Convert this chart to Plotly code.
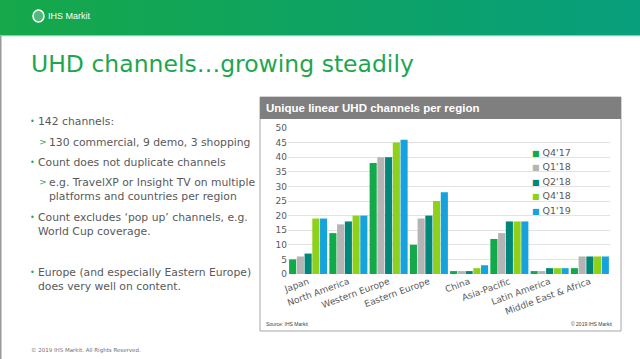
import plotly.graph_objects as go

W, H = 640, 359

regions = ["Japan", "North America", "Western Europe", "Eastern Europe", "China",
           "Asia-Pacific", "Latin America", "Middle East & Africa"]
q4_17 = [5, 14, 38, 10, 1, 12, 1, 2]
q1_18 = [6, 17, 40, 19, 1, 14, 1, 6]
q2_18 = [7, 18, 40, 20, 1, 18, 2, 6]
q4_18 = [19, 20, 45, 25, 2, 18, 2, 6]
q1_19 = [19, 20, 46, 28, 3, 18, 2, 6]
series_names = ["Q4'17", "Q1'18", "Q2'18", "Q4'18", "Q1'19"]
series_vals = [q4_17, q1_18, q2_18, q4_18, q1_19]
series_colors = ["#12a94a", "#b4b4b4", "#00877a", "#8fd11a", "#16a3dc"]
y_ticks = [0, 5, 10, 15, 20, 25, 30, 35, 40, 45, 50]

bullets = [
    ("•", "142 channels:", 0, 122),
    (">", "130 commercial, 9 demo, 3 shopping", 1, 142),
    ("•", "Count does not duplicate channels", 0, 162),
    (">", "e.g. TravelXP or Insight TV on multiple", 1, 182),
    ("", "platforms and countries per region", 1, 196),
    ("•", "Count excludes ‘pop up’ channels, e.g.", 0, 217),
    ("", "World Cup coverage.", 0, 231),
    ("•", "Europe (and especially Eastern Europe)", 0, 272),
    ("", "does very well on content.", 0, 286),
]

def px(x):
    return x / W

def py(y):
    return 1 - y / H

fig = go.Figure()
for name, vals, col in zip(series_names, series_vals, series_colors):
    fig.add_trace(go.Bar(x=regions, y=vals, name=name, marker_color=col,
                         marker_line_width=0, showlegend=False))

shapes = []
# header gradient
c0 = (0x16, 0xa8, 0x4a)
c1 = (0x08, 0x9f, 0x7c)
n = 40
for i in range(n):
    t = i / (n - 1)
    c = tuple(int(c0[k] + (c1[k] - c0[k]) * t) for k in range(3))
    shapes.append(dict(type="rect", xref="paper", yref="paper",
                       x0=px(i * W / n), x1=px((i + 1) * W / n + 0.5),
                       y0=py(35), y1=py(0), line_width=0,
                       fillcolor="rgb(%d,%d,%d)" % c, layer="below"))
shapes.append(dict(type="rect", xref="paper", yref="paper", x0=0, x1=1,
                   y0=py(36.2), y1=py(35), line_width=0, fillcolor="#7fcdbd", layer="below"))
# left border
shapes.append(dict(type="rect", xref="paper", yref="paper", x0=0, x1=px(1.5),
                   y0=0, y1=py(36), line_width=0, fillcolor="#9a9a9a", layer="below"))
# logo
shapes.append(dict(type="circle", xref="paper", yref="paper", x0=px(33), x1=px(44),
                   y0=py(22), y1=py(10), line=dict(color="white", width=1.5),
                   fillcolor="rgba(255,255,255,0.25)", layer="above"))
# chart box
bx0, bx1, by0, by1 = 260, 621, 97, 331
shapes.append(dict(type="rect", xref="paper", yref="paper", x0=px(bx0), x1=px(bx1),
                   y0=py(by1), y1=py(by0), line=dict(color="#a6a6a6", width=1),
                   fillcolor="white", layer="below"))
shapes.append(dict(type="rect", xref="paper", yref="paper", x0=px(bx0), x1=px(bx1),
                   y0=py(119), y1=py(by0), line_width=0, fillcolor="#7f7f7f", layer="below"))

ann = []
ann.append(dict(text="IHS Markit", x=px(46), y=py(16.5), xref="paper", yref="paper",
                xanchor="left", yanchor="middle", showarrow=False,
                font=dict(family="Arial", size=9, color="white")))
ann.append(dict(text="UHD channels…growing steadily", x=px(29), y=py(64),
                xref="paper", yref="paper", xanchor="left", yanchor="middle",
                showarrow=False, font=dict(family="DejaVu Sans", size=23.5, color="#1ea64f")))
for sym, txt, lvl, y in bullets:
    xs = 28 if lvl == 0 else 37
    xt = 36 if lvl == 0 else 47
    if sym:
        ann.append(dict(text=sym, x=px(xs), y=py(y), xref="paper", yref="paper",
                        xanchor="left", yanchor="middle", showarrow=False,
                        font=dict(family="DejaVu Sans", size=8 if sym == "•" else 9,
                                  color="#2aa85a")))
    ann.append(dict(text=txt, x=px(xt), y=py(y), xref="paper", yref="paper",
                    xanchor="left", yanchor="middle", showarrow=False,
                    font=dict(family="DejaVu Sans", size=10.8, color="#595959")))
ann.append(dict(text="<b>Unique linear UHD channels per region</b>", x=px(264), y=py(108),
                xref="paper", yref="paper", xanchor="left", yanchor="middle",
                showarrow=False, font=dict(family="Arial", size=11.5, color="white")))
ann.append(dict(text="Source: IHS Markit", x=px(264), y=py(324), xref="paper", yref="paper",
                xanchor="left", yanchor="middle", showarrow=False,
                font=dict(family="Arial", size=5, color="#404040")))
ann.append(dict(text="© 2019 IHS Markit", x=px(615), y=py(324), xref="paper", yref="paper",
                xanchor="right", yanchor="middle", showarrow=False,
                font=dict(family="Arial", size=5, color="#404040")))
ann.append(dict(text="© 2019 IHS Markit. All Rights Reserved.", x=px(29), y=py(350),
                xref="paper", yref="paper", xanchor="left", yanchor="middle",
                showarrow=False, font=dict(family="DejaVu Sans", size=5.5, color="#707070")))
# legend as text entries
for i, (name, col) in enumerate(zip(series_names, series_colors)):
    ann.append(dict(text="<span style='color:%s;font-size:8px'>■</span> %s" % (col, name),
                    x=px(530), y=py(152 + 14.5 * i), xref="paper", yref="paper",
                    xanchor="left", yanchor="middle", showarrow=False,
                    font=dict(family="DejaVu Sans", size=9.5, color="#595959")))

fig.update_layout(
    width=W, height=H, margin=dict(l=0, r=0, t=0, b=0, autoexpand=False),
    paper_bgcolor="white", plot_bgcolor="rgba(0,0,0,0)",
    barmode="group", bargap=0.04, bargroupgap=0.08,
    shapes=shapes, annotations=ann, showlegend=False,
    xaxis=dict(domain=[px(288), px(610)], tickangle=-20, showline=False,
               ticks="", tickfont=dict(family="DejaVu Sans", size=9, color="#595959")),
    yaxis=dict(domain=[py(274), py(128)], range=[0, 50], tickvals=y_ticks,
               showgrid=True, gridcolor="#e3e3e3", gridwidth=1, zeroline=False,
               ticks="", ticklen=0, tickfont=dict(family="DejaVu Sans", size=9, color="#595959")),
)
fig.write_html("out.html", config={"displayModeBar": False},
               post_script="document.body.style.margin='0';document.body.style.padding='0';document.body.style.overflow='hidden';")
